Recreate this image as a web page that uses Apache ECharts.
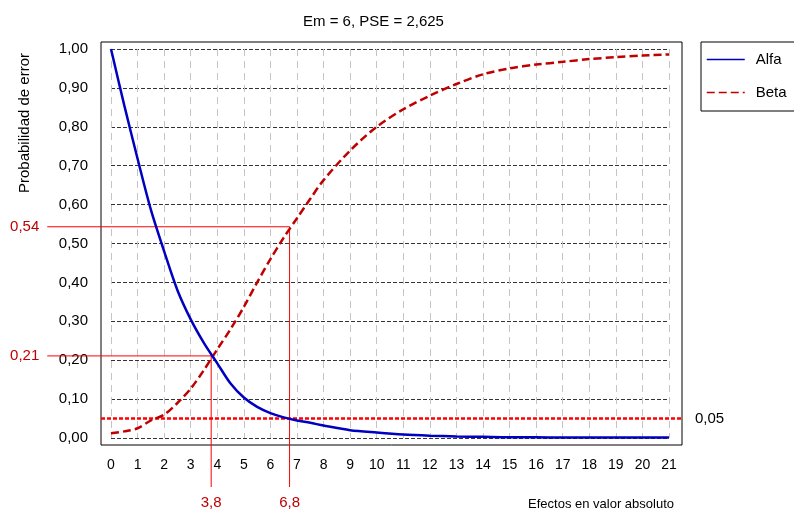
<!DOCTYPE html>
<html lang="es">
<head>
<meta charset="UTF-8">
<title>Probabilidad de error</title>
<script src="https://cdn.jsdelivr.net/npm/echarts@6/dist/echarts.min.js"></script>
<style>
  html, body { margin: 0; padding: 0; background: #fff; }
  #main { width: 794px; height: 513px; }
</style>
</head>
<body>
<div id="main"></div>
<script>
// datos
var titulo = 'Em = 6, PSE = 2,625';
var curvaX = [0, 0.5, 1, 1.5, 2, 2.5, 3, 3.5, 4, 4.5, 5, 5.5, 6, 6.5, 7, 7.5, 8, 9, 10, 11, 12, 13, 14, 15, 16, 17, 18, 19, 20, 21];
var alfa = [1.00, 0.855, 0.718, 0.587, 0.48, 0.38, 0.305, 0.244, 0.192, 0.14, 0.104, 0.08, 0.064, 0.053, 0.045, 0.039, 0.032, 0.02, 0.014, 0.009, 0.006, 0.004, 0.003, 0.002, 0.002, 0.001, 0.001, 0.001, 0.001, 0.001];
var beta = [0.012, 0.017, 0.025, 0.045, 0.06, 0.09, 0.127, 0.175, 0.228, 0.28, 0.337, 0.40, 0.46, 0.515, 0.565, 0.615, 0.663, 0.739, 0.80, 0.845, 0.88, 0.91, 0.935, 0.95, 0.96, 0.967, 0.974, 0.979, 0.983, 0.986];
var nivelAlfa = 0.05;
var cruceX = [3.77, 6.72];
var cruceY = [0.211, 0.543];
var cruceXLab = ['3,8', '6,8'];
var cruceYLab = ['0,21', '0,54'];

// rango de los ejes
var xMin = 0, xMax = 21, yMin = 0, yMax = 1;
// hasta donde llegan las lineas auxiliares (fuera del area de datos)
var marcoX = [-0.376, 21.49];
var guiaIzq = -2.4;
var guiaAbajo = -0.126;

var W = 794, H = 513;
var g0 = { left: 111, right: 125, top: 49, bottom: 75 };
var fuente = 'Liberation Sans, Arial, sans-serif';
var rojoTxt = '#c00000';

// eje oculto que cubre todo el lienzo con la misma escala que el grid principal
var pxX = (W - g0.left - g0.right) / (xMax - xMin);
var pxY = (H - g0.top - g0.bottom) / (yMax - yMin);
var todoX = [xMin - g0.left / pxX, xMax + g0.right / pxX];
var todoY = [yMin - g0.bottom / pxY, yMax + g0.top / pxY];

function coma(v, d) { return v.toFixed(d).replace('.', ','); }
function pares(xs, ys) {
  var out = [];
  for (var i = 0; i < xs.length; i++) out.push([xs[i], ys[i]]);
  return out;
}

var lbl = { show: true, color: rojoTxt, fontSize: 15, fontFamily: fuente, distance: 8 };

// una polilinea por cada cruce: horizontal desde la izquierda y vertical hacia abajo
function serieGuia(k) {
  return {
    name: 'guia' + k,
    type: 'line',
    xAxisIndex: 2, yAxisIndex: 2,
    data: [
      { value: [guiaIzq, cruceY[k]], label: Object.assign({}, lbl, { position: 'left', formatter: cruceYLab[k] }) },
      { value: [cruceX[k], cruceY[k]] },
      { value: [cruceX[k], guiaAbajo], label: Object.assign({}, lbl, { position: 'bottom', formatter: cruceXLab[k] }) }
    ],
    symbol: 'circle',
    symbolSize: 0,
    showSymbol: true,
    silent: true,
    z: 2,
    lineStyle: { color: '#ff0000', width: 1 },
    itemStyle: { color: '#ff0000' }
  };
}

var chart = echarts.init(document.getElementById('main'));
chart.setOption({
  animation: false,
  textStyle: { fontFamily: fuente },
  title: {
    text: titulo,
    left: 298,
    top: 9,
    textStyle: { fontSize: 15, fontWeight: 'normal', color: '#000', fontFamily: fuente }
  },
  legend: {
    data: ['Alfa', 'Beta'],
    orient: 'vertical',
    left: 701,
    top: 42,
    padding: [10, 12, 11, 5],
    itemWidth: 38,
    itemHeight: 14,
    itemGap: 18,
    borderColor: '#000',
    borderWidth: 1,
    backgroundColor: '#fff',
    itemStyle: { opacity: 0 },
    lineStyle: { width: 1.5 },
    textStyle: { fontSize: 15, color: '#000', fontFamily: fuente, padding: [0, 0, 0, 6] }
  },
  grid: [
    { left: g0.left, right: g0.right, top: g0.top, bottom: g0.bottom },
    { left: 101, right: 112, top: 42, bottom: 68, show: true, borderColor: '#000', borderWidth: 1, backgroundColor: 'transparent' },
    { left: 0, right: 0, top: 0, bottom: 0 }
  ],
  xAxis: [
    {
      type: 'value', gridIndex: 0, min: xMin, max: xMax, interval: 1,
      axisLine: { show: false }, axisTick: { show: false },
      axisLabel: { margin: 20, fontSize: 14, color: '#000', fontFamily: fuente },
      splitLine: { show: true, lineStyle: { color: '#c4c4c4', type: [7, 5], width: 1 } }
    },
    { type: 'value', gridIndex: 1, show: false, min: 0, max: 1, splitLine: { show: false } },
    { type: 'value', gridIndex: 2, show: false, min: todoX[0], max: todoX[1], splitLine: { show: false } }
  ],
  yAxis: [
    {
      type: 'value', gridIndex: 0, min: yMin, max: yMax, interval: 0.1,
      axisLine: { show: false }, axisTick: { show: false },
      axisLabel: { margin: 23, fontSize: 15, color: '#000', fontFamily: fuente, formatter: function (v) { return coma(v, 2); } },
      splitLine: { show: true, lineStyle: { color: '#333', type: [4, 2], width: 1 } }
    },
    { type: 'value', gridIndex: 1, show: false, min: 0, max: 1, splitLine: { show: false } },
    { type: 'value', gridIndex: 2, show: false, min: todoY[0], max: todoY[1], splitLine: { show: false } }
  ],
  graphic: [
    {
      type: 'text', x: 25, y: 123, rotation: Math.PI / 2,
      style: { text: 'Probabilidad de error', fontSize: 15, fill: '#000', fontFamily: fuente, align: 'center', verticalAlign: 'middle' }
    },
    {
      type: 'text', x: 674, y: 504,
      style: { text: 'Efectos en valor absoluto', fontSize: 13, fill: '#000', fontFamily: fuente, align: 'right', verticalAlign: 'middle' }
    }
  ],
  series: [
    serieGuia(0),
    serieGuia(1),
    {
      name: 'nivel',
      type: 'line',
      xAxisIndex: 2, yAxisIndex: 2,
      data: [
        { value: [marcoX[0], nivelAlfa] },
        { value: [marcoX[1], nivelAlfa], label: { show: true, position: 'right', distance: 13, color: '#000', fontSize: 15, fontFamily: fuente, formatter: coma(nivelAlfa, 2) } }
      ],
      symbol: 'circle',
      symbolSize: 0,
      showSymbol: true,
      silent: true,
      z: 3,
      lineStyle: { color: '#ff0000', width: 2.5, type: [4, 2] },
      itemStyle: { color: '#ff0000' }
    },
    {
      name: 'Alfa',
      type: 'line',
      data: pares(curvaX, alfa),
      symbol: 'none',
      smooth: 0.3,
      clip: false,
      z: 5,
      lineStyle: { color: '#0000c0', width: 2.5 },
      itemStyle: { color: '#0000c0' }
    },
    {
      name: 'Beta',
      type: 'line',
      data: pares(curvaX, beta),
      symbol: 'none',
      smooth: 0.3,
      clip: false,
      z: 4,
      lineStyle: { color: '#c00000', width: 2.5, type: [8, 4] },
      itemStyle: { color: '#c00000' }
    }
  ]
});
</script>
</body>
</html>
